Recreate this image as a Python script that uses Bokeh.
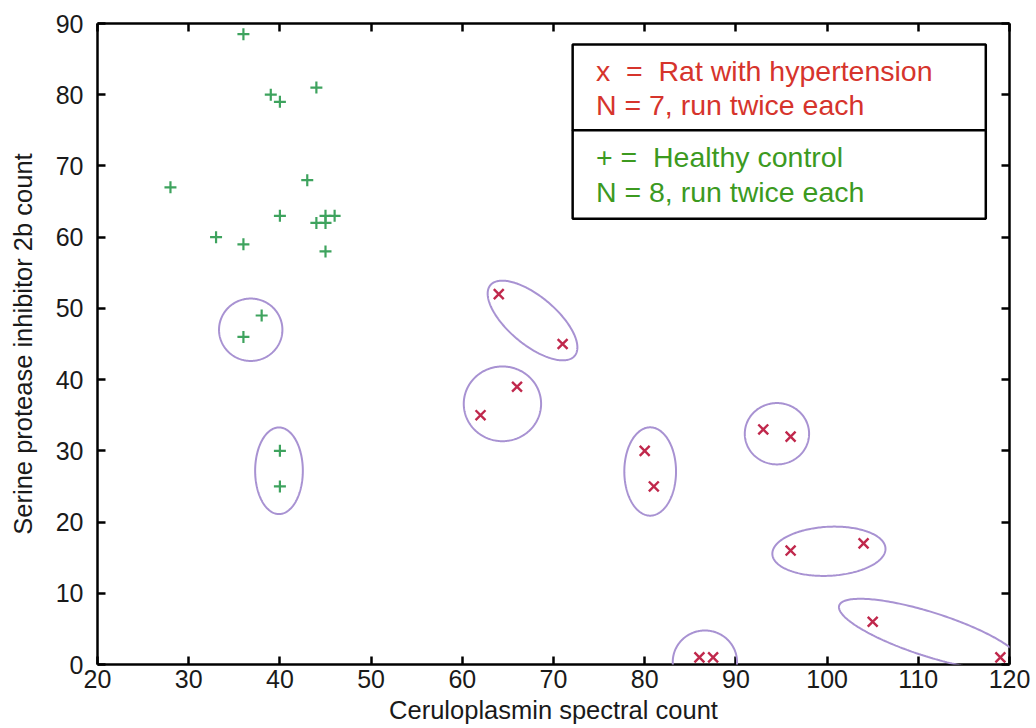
import numpy as np
from bokeh.plotting import figure
from bokeh.models import Range1d, FixedTicker, LinearAxis, BoxAnnotation, Label, PolyAnnotation
from bokeh.embed import file_html
from bokeh.resources import INLINE

# ---------------- data ----------------
x_ticks = [20, 30, 40, 50, 60, 70, 80, 90, 100, 110, 120]
y_ticks = [0, 10, 20, 30, 40, 50, 60, 70, 80, 90]

# Healthy control (+)
healthy_x = [36, 39, 40, 44, 28, 43, 33, 40, 36, 44, 45, 45, 46, 45, 38, 36, 40, 40]
healthy_y = [88.5, 80, 79, 81, 67, 68, 60, 63, 59, 62, 62, 63, 63, 58, 49, 46, 30, 25]

# Rat with hypertension (x)
hyper_x = [64, 71, 66, 62, 80, 81, 93, 96, 96, 104, 105, 119, 86, 87.5]
hyper_y = [52, 45, 39, 35, 30, 25, 33, 32, 16, 17, 6, 1, 1, 1]

# grouping ellipses (centre, width in x units, height in y units, angle in degrees)
ell_x = [36.8, 39.9, 67.7, 64.4, 80.6, 94.5, 100.2, 111.3, 86.6]
ell_y = [47.0, 27.2, 48.3, 36.6, 27.1, 32.4, 15.9, 4.2, 0.35]
ell_w = [6.95, 5.23, 12.06, 8.48, 5.67, 7.05, 12.42, 20.94, 7.05]
ell_h = [8.76, 12.16, 6.74, 10.49, 12.40, 8.61, 6.88, 6.18, 8.85]
ell_angle = [0, 0, -40, 0, 0, 0, 3, -17.7, 0]

NB = "\u00a0"
legend_lines = ["x " + NB + "= " + NB + "Rat with hypertension", "N = 7, run twice each",
                "+ = " + NB + "Healthy control", "N = 8, run twice each"]

# ---------------- layout ----------------
X_MIN, X_MAX = 20, 120
Y_MIN, Y_MAX = 0, 90
FRAME_W, FRAME_H = 912, 641
FONT = "Liberation Sans"

p = figure(frame_width=FRAME_W, frame_height=FRAME_H,
           x_range=Range1d(X_MIN, X_MAX), y_range=Range1d(Y_MIN, Y_MAX),
           output_backend="svg", toolbar_location=None,
           min_border_left=97, min_border_top=23, min_border_right=27, min_border_bottom=64,
           x_axis_label="Ceruloplasmin spectral count",
           y_axis_label="Serine protease inhibitor 2b count")
p.grid.visible = False
p.outline_line_color = None
p.background_fill_color = "white"
p.border_fill_color = "white"

p.add_layout(LinearAxis(), "above")
p.add_layout(LinearAxis(), "right")

for ax in p.xaxis:
    ax.ticker = FixedTicker(ticks=x_ticks)
for ax in p.yaxis:
    ax.ticker = FixedTicker(ticks=y_ticks)

for ax in p.axis:
    ax.axis_line_color = "black"
    ax.axis_line_width = 2.5
    ax.major_tick_line_color = "black"
    ax.major_tick_line_width = 2.5
    ax.major_tick_in = 8
    ax.major_tick_out = 0
    ax.minor_tick_line_color = None
    ax.major_label_text_font = FONT
    ax.major_label_text_color = "#1a1a1a"
    ax.major_label_text_font_size = "25px"
    ax.axis_label_text_font = FONT
    ax.axis_label_text_font_style = "normal"
    ax.axis_label_text_color = "#1a1a1a"
    ax.axis_label_text_font_size = "25.5px"

p.xaxis[0].major_label_standoff = 10
p.xaxis[0].axis_label_standoff = 6
p.yaxis[0].major_label_standoff = 14
p.yaxis[0].axis_label_standoff = 16
for ax in (p.above[0], p.right[0]):
    ax.major_label_text_font_size = "0px"
    ax.major_label_standoff = 0
    ax.major_label_text_alpha = 0

# ---------------- ellipses ----------------
sxu = FRAME_W / (X_MAX - X_MIN)
syu = FRAME_H / (Y_MAX - Y_MIN)
t = np.linspace(0, 2 * np.pi, 241)
for cx, cy, w, h, ang in zip(ell_x, ell_y, ell_w, ell_h, ell_angle):
    a = w * sxu / 2
    b = h * syu / 2
    th = np.radians(ang)
    X = a * np.cos(t) * np.cos(th) - b * np.sin(t) * np.sin(th)
    Y = a * np.cos(t) * np.sin(th) + b * np.sin(t) * np.cos(th)
    p.add_layout(PolyAnnotation(xs=list(cx + X / sxu), ys=list(cy + Y / syu),
                                line_color="#a892d2", line_alpha=1, line_width=2,
                                fill_color=None, fill_alpha=0))

# ---------------- points ----------------
p.scatter(healthy_x, healthy_y, marker="cross", size=12, line_width=2.2,
          line_color="#3ea35e")
p.scatter(hyper_x, hyper_y, marker="x", size=14, line_width=2.4,
          line_color="#c0284c")

# ---------------- legend box ----------------
for top, bottom in ((87.05, 75.0), (75.0, 62.6)):
    p.add_layout(BoxAnnotation(left=72.1, right=117.4, top=top, bottom=bottom,
                               fill_color="white", fill_alpha=1, line_color="black",
                               line_alpha=1, line_width=2.5))
legend_y = [83.3, 78.5, 71.2, 66.3]
legend_colors = ["#d6342c", "#d6342c", "#3c9a1f", "#3c9a1f"]
for txt, yy, col in zip(legend_lines, legend_y, legend_colors):
    p.add_layout(Label(x=74.65, y=yy, text=txt, text_color=col,
                       text_font=FONT, text_font_size="28.5px",
                       text_baseline="alphabetic", text_align="left"))

open("out.html", "w").write(file_html(p, INLINE))
